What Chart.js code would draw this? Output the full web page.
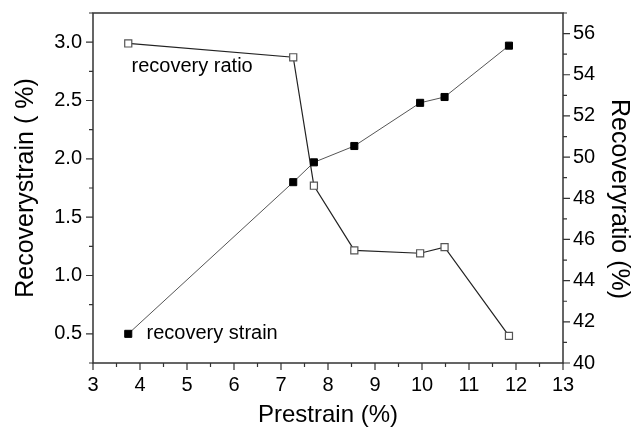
<!DOCTYPE html>
<html>
<head>
<meta charset="utf-8">
<script src="https://cdn.jsdelivr.net/npm/chart.js@4/dist/chart.umd.min.js"></script>
<style>
  html, body { margin: 0; padding: 0; background: #fff; }
</style>
</head>
<body>
<canvas id="chart" width="643" height="431"></canvas>
<script>
// values
const prestrain = [3.75, 7.26, 7.70, 8.56, 9.96, 10.48, 11.85];
const recoveryStrain = [0.50, 1.80, 1.97, 2.11, 2.48, 2.53, 2.97];
const recoveryRatio = [55.52, 54.85, 48.61, 45.47, 45.33, 45.63, 41.32];

const xTickLabels = ['3', '4', '5', '6', '7', '8', '9', '10', '11', '12', '13'];
const leftTickLabels = ['0.5', '1.0', '1.5', '2.0', '2.5', '3.0'];
const rightTickLabels = ['40', '42', '44', '46', '48', '50', '52', '54', '56'];

const strainNote = 'recovery strain';
const ratioNote = 'recovery ratio';

Chart.defaults.font.family = '"Liberation Sans", Arial, sans-serif';
Chart.defaults.color = '#000';

const pick = (labels, v) => labels.find(l => Math.abs(parseFloat(l) - v) < 1e-6) || '';

// frame, major/minor tick marks and the two notes
const decor = {
  id: 'decor',
  afterDraw(chart) {
    const { ctx, chartArea: a, scales } = chart;
    ctx.save();
    ctx.strokeStyle = '#333';
    ctx.lineWidth = 1.5;
    ctx.strokeRect(a.left, a.top, a.right - a.left, a.bottom - a.top);

    ctx.lineWidth = 1.2;
    ctx.beginPath();
    scales.x.ticks.forEach(t => {
      const p = scales.x.getPixelForValue(t.value);
      const len = t.label ? 7 : 4;
      ctx.moveTo(p, a.bottom); ctx.lineTo(p, a.bottom + len);
    });
    scales.y.ticks.forEach(t => {
      const p = scales.y.getPixelForValue(t.value);
      const len = t.label ? 7 : 4;
      ctx.moveTo(a.left, p); ctx.lineTo(a.left - len, p);
    });
    scales.y1.ticks.forEach(t => {
      const p = scales.y1.getPixelForValue(t.value);
      const len = t.label ? 7 : 4;
      ctx.moveTo(a.right, p); ctx.lineTo(a.right + len, p);
    });
    ctx.stroke();

    ctx.fillStyle = '#000';
    ctx.font = '20px "Liberation Sans", Arial, sans-serif';
    ctx.textBaseline = 'middle';
    ctx.textAlign = 'left';
    ctx.fillText(ratioNote, scales.x.getPixelForValue(3.82), scales.y.getPixelForValue(2.79));
    ctx.fillText(strainNote, scales.x.getPixelForValue(4.14), scales.y.getPixelForValue(0.5));

    // right axis title
    ctx.font = '25px "Liberation Sans", Arial, sans-serif';
    ctx.textAlign = 'center';
    ctx.translate(a.right + 56, (a.top + a.bottom) / 2 + 11);
    ctx.rotate(Math.PI / 2);
    ctx.fillText('Recoveryratio (%)', 0, 0);
    ctx.restore();
  }
};

new Chart(document.getElementById('chart'), {
  type: 'line',
  data: {
    datasets: [
      {
        label: 'recovery strain',
        data: prestrain.map((x, i) => ({ x, y: recoveryStrain[i] })),
        yAxisID: 'y',
        borderColor: '#555',
        borderWidth: 1,
        pointStyle: 'rect',
        pointRadius: 5,
        pointBackgroundColor: '#000',
        pointBorderColor: '#000',
        pointBorderWidth: 1,
        tension: 0
      },
      {
        label: 'recovery ratio',
        data: prestrain.map((x, i) => ({ x, y: recoveryRatio[i] })),
        yAxisID: 'y1',
        borderColor: '#222',
        borderWidth: 1.2,
        pointStyle: 'rect',
        pointRadius: 5,
        pointBackgroundColor: '#fff',
        pointBorderColor: '#555',
        pointBorderWidth: 1.2,
        tension: 0
      }
    ]
  },
  options: {
    responsive: false,
    animation: false,
    layout: { padding: { top: 13, left: 0, right: 0, bottom: 0 } },
    plugins: { legend: { display: false }, tooltip: { enabled: false } },
    scales: {
      x: {
        type: 'linear',
        min: 3, max: 13,
        grid: { display: false, drawTicks: false },
        border: { display: false },
        ticks: {
          stepSize: 0.5, autoSkip: false, maxRotation: 0, padding: 10,
          font: { size: 20 },
          callback: v => pick(xTickLabels, v)
        },
        title: { display: true, text: 'Prestrain (%)', font: { size: 24, lineHeight: 1.3 }, padding: 0 },
        afterFit: s => { s.height = 68; s.paddingLeft = 0; s.paddingRight = 0; }
      },
      y: {
        position: 'left',
        min: 0.25, max: 3.25,
        grid: { display: false, drawTicks: false },
        border: { display: false },
        ticks: {
          stepSize: 0.25, autoSkip: false, padding: 11,
          font: { size: 20 },
          callback: v => pick(leftTickLabels, v)
        },
        title: { display: true, text: 'Recoverystrain ( %)', font: { size: 25, lineHeight: 2.1 }, padding: 0 },
        afterFit: s => { s.width = 93; s.paddingTop = 0; s.paddingBottom = 0; }
      },
      y1: {
        position: 'right',
        min: 40, max: 57,
        grid: { display: false, drawTicks: false },
        border: { display: false },
        ticks: {
          stepSize: 1, autoSkip: false, padding: 10,
          font: { size: 20 },
          callback: v => pick(rightTickLabels, v)
        },
        afterFit: s => { s.width = 80; s.paddingTop = 0; s.paddingBottom = 0; }
      }
    }
  },
  plugins: [decor]
});
</script>
</body>
</html>
